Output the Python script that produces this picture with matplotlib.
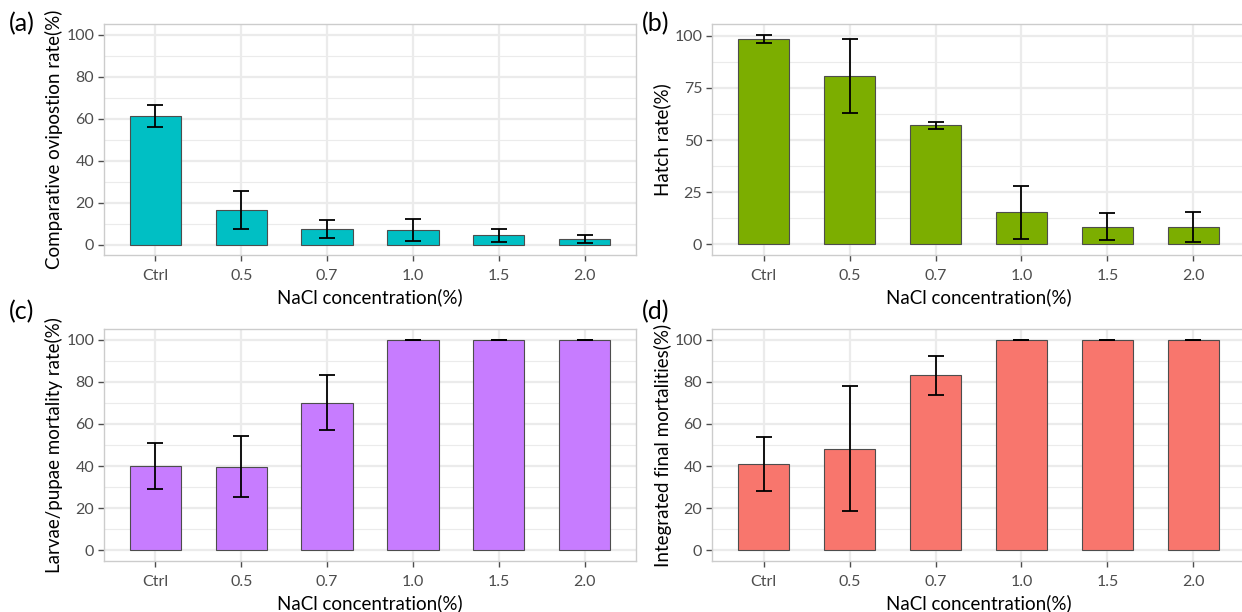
import numpy as np
import matplotlib
matplotlib.use('Agg')
import matplotlib.pyplot as plt
from matplotlib.ticker import MultipleLocator

plt.rcParams['font.family'] = ['Lato', 'DejaVu Sans']

categories = ['Ctrl', '0.5', '0.7', '1.0', '1.5', '2.0']

# (a) comparative oviposition rate
ovi_mean = [61.1, 16.3, 7.5, 7.0, 4.3, 2.5]
ovi_sd = [5.3, 9.0, 4.2, 5.1, 3.3, 1.9]
# (b) hatch rate
hatch_mean = [98.4, 80.6, 57.0, 15.4, 8.6, 8.3]
hatch_sd = [2.1, 17.7, 1.6, 12.7, 6.5, 7.3]
# (c) larvae/pupae mortality
larv_mean = [40.1, 39.8, 70.0, 100, 100, 100]
larv_sd = [11.0, 14.5, 13.0, 0, 0, 0]
# (d) integrated final mortalities
final_mean = [41.2, 48.2, 83.1, 100, 100, 100]
final_sd = [12.8, 29.7, 9.3, 0, 0, 0]

W, H = 1242, 612
fig = plt.figure(figsize=(W / 100, H / 100), dpi=100)

def add_ax(l, r, t, b):
    return fig.add_axes([l / W, 1 - b / H, (r - l) / W, (b - t) / H])

def draw(ax, mean, sd, color, ylabel, ylim, major):
    x = np.arange(1, len(categories) + 1)
    ax.set_axisbelow(True)
    ax.bar(x, mean, width=0.6, color=color, edgecolor='#4d4d4d', linewidth=0.8, zorder=2)
    ax.errorbar(x, mean, yerr=sd, fmt='none', ecolor='black', elinewidth=1.3,
                capsize=6, capthick=1.3, zorder=3)
    ax.set_xlim(0.4, 6.6)
    ax.set_ylim(*ylim)
    ax.set_xticks(x)
    ax.set_xticklabels(categories)
    ax.yaxis.set_major_locator(MultipleLocator(major))
    ax.yaxis.set_minor_locator(MultipleLocator(major / 2))
    ax.grid(which='major', color='#ebebeb', linewidth=1.6)
    ax.grid(which='minor', axis='y', color='#ebebeb', linewidth=0.8)
    ax.tick_params(which='major', colors='#4d4d4d', labelsize=11.5, length=4, width=1, pad=3)
    ax.tick_params(axis='x', pad=6)
    ax.tick_params(which='minor', length=0)
    for s in ax.spines.values():
        s.set_color('#cccccc')
        s.set_linewidth(1)
    ax.set_xlabel('NaCl concentration(%)', fontsize=13.5, labelpad=4)
    ax.set_ylabel(ylabel, fontsize=13.5, labelpad=2)

ax_a = add_ax(104, 636, 24, 255)
draw(ax_a, ovi_mean, ovi_sd, '#00BFC4', 'Comparative ovipostion rate(%)', (-5, 105), 20)
ax_b = add_ax(712, 1245, 24, 255)
draw(ax_b, hatch_mean, hatch_sd, '#7CAE00', 'Hatch rate(%)', (-5.03, 105.6), 25)
ax_c = add_ax(104, 636, 329, 561)
draw(ax_c, larv_mean, larv_sd, '#C77CFF', 'Larvae/pupae mortality rate(%)', (-5, 105), 20)
ax_d = add_ax(712, 1245, 329, 561)
draw(ax_d, final_mean, final_sd, '#F8766D', 'Integrated final mortalities(%)', (-5, 105), 20)

tags = ['(a)', '(b)', '(c)', '(d)']
tag_pos = [(9, 24), (642, 24), (9, 312), (642, 312)]
for t, (px, py) in zip(tags, tag_pos):
    fig.text(px / W, 1 - py / H, t, fontsize=18, ha='left', va='center')

fig.savefig('out.png', dpi=100)
